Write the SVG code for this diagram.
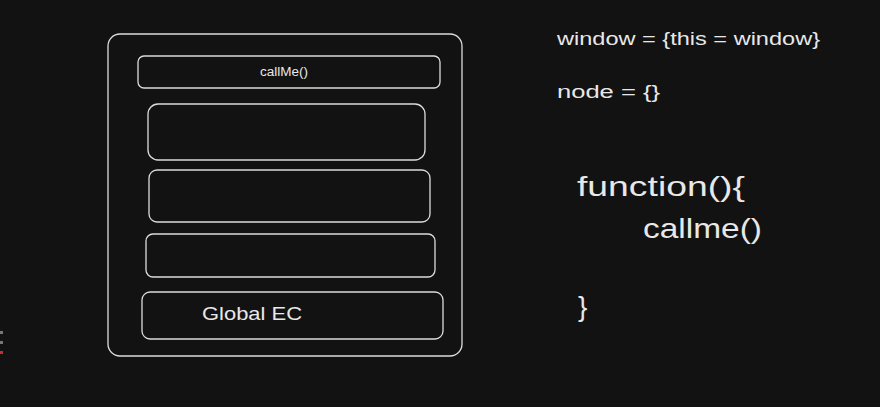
<svg xmlns="http://www.w3.org/2000/svg" width="880" height="407" viewBox="0 0 880 407">
<style>
.box{fill:none;stroke:#dcdcdc;stroke-width:1.3}
.t{fill:#e8e8e8;font-family:"Liberation Sans",Arial,sans-serif}
</style>
<rect x="0" y="0" width="880" height="407" fill="#121212"/>
<g id="marks">
<rect x="0" y="331" width="3" height="3" fill="#777"/>
<rect x="0" y="341" width="3" height="3" fill="#777"/>
<rect x="0" y="351" width="3" height="3" fill="#c03030"/>
</g>
<g id="stack">
<rect class="box" x="108" y="34" width="354" height="322" rx="12"/>
</g>
<g id="callme-frame">
<rect class="box" x="138" y="56" width="302" height="32" rx="6"/>
<text class="t" x="260" y="76" font-size="12" textLength="48" lengthAdjust="spacingAndGlyphs">callMe()</text>
</g>
<g id="frame2"><rect class="box" x="148" y="104" width="277" height="56" rx="10"/></g>
<g id="frame3"><rect class="box" x="149" y="170" width="281" height="52" rx="8"/></g>
<g id="frame4"><rect class="box" x="146" y="234" width="289" height="43" rx="7"/></g>
<g id="global-ec">
<rect class="box" x="142" y="292" width="301" height="47" rx="8"/>
<text class="t" x="202" y="320" font-size="19" textLength="100" lengthAdjust="spacingAndGlyphs">Global EC</text>
</g>
<g id="code">
<text class="t" x="557" y="45" font-size="18" textLength="263" lengthAdjust="spacingAndGlyphs">window = {this = window}</text>
<text class="t" x="557" y="98" font-size="18" textLength="103" lengthAdjust="spacingAndGlyphs">node = {}</text>
<text class="t" x="577" y="196" font-size="28" textLength="168" lengthAdjust="spacingAndGlyphs">function(){</text>
<text class="t" x="643" y="238" font-size="28" textLength="119" lengthAdjust="spacingAndGlyphs">callme()</text>
<text class="t" x="578" y="316" font-size="28">}</text>
</g>
<g id="connectors"/>
</svg>
